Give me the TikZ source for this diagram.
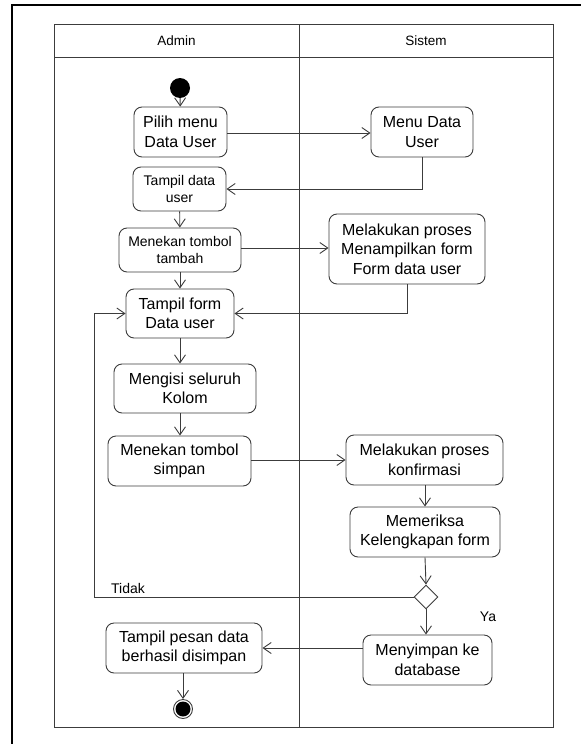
\documentclass[tikz,border=0pt]{standalone}
\usepackage{fontspec}
\setmainfont{Liberation Sans}
\usetikzlibrary{arrows.meta,shapes.geometric}
\definecolor{linegray}{HTML}{3C3C3C}
\begin{document}
\begin{tikzpicture}[x=1pt,y=-1pt,
  flow/.style={draw=linegray,line width=0.9pt,-{Straight Barb[length=8pt,width=11pt,line width=0.9pt]}},
  act/.style={draw=linegray,line width=0.9pt,rounded corners=8pt,align=center,inner sep=0pt,
    font=\fontsize{16}{19.5}\selectfont},
  actsmall/.style={act,font=\fontsize{14}{17}\selectfont},
  lane/.style={draw=linegray,line width=1pt},
  lbl/.style={font=\fontsize{14}{16}\selectfont,inner sep=0pt}]
\useasboundingbox (0,0) rectangle (581,744);
% page frame
\draw[line width=2pt,black] (12,744) -- (12,5) -- (581,5);
% swimlanes
\draw[lane] (54,24) rectangle (553,727);
\draw[lane] (54,57) -- (553,57);
\draw[lane] (299,24) -- (299,727);
\node[lbl,font=\fontsize{13.5}{16}\selectfont] (hadmin) at (176.5,41) {Admin};
\node[lbl,font=\fontsize{13.5}{16}\selectfont] (hsistem) at (426,41) {Sistem};
% activities
\node[circle,fill=black,minimum size=20pt,inner sep=0pt] (start) at (180,88) {};
\node[act,minimum width=93pt,minimum height=50pt] (pilih) at (180.5,132) {Pilih menu\\Data User};
\node[act,minimum width=102pt,minimum height=50pt] (menu) at (422,132) {Menu Data\\User};
\node[actsmall,minimum width=93pt,minimum height=44pt] (tdata) at (179.5,189) {Tampil data\\user};
\node[actsmall,minimum width=122pt,minimum height=44pt] (tambah) at (180,250) {Menekan tombol\\tambah};
\node[act,minimum width=156pt,minimum height=70pt] (proses) at (407,249) {Melakukan proses\\Menampilkan form\\Form data user};
\node[act,minimum width=108pt,minimum height=49pt] (tform) at (180,313.5) {Tampil form\\Data user};
\node[act,minimum width=142pt,minimum height=49pt] (isi) at (185,388.5) {Mengisi seluruh\\Kolom};
\node[act,minimum width=143pt,minimum height=50pt] (simpan) at (179.5,461) {Menekan tombol\\simpan};
\node[act,minimum width=157pt,minimum height=50pt] (konf) at (424.5,460) {Melakukan proses\\konfirmasi};
\node[act,minimum width=150pt,minimum height=50pt] (periksa) at (425,532) {Memeriksa\\Kelengkapan form};
\node[diamond,draw=linegray,line width=0.9pt,minimum width=24pt,minimum height=24pt,inner sep=0pt] (cek) at (426,597) {};
\node[act,minimum width=129pt,minimum height=50pt] (db) at (427.5,660) {Menyimpan ke\\database};
\node[act,minimum width=156pt,minimum height=50pt] (pesan) at (184,648) {Tampil pesan data\\berhasil disimpan};
\node[circle,draw=linegray,line width=0.9pt,minimum size=19pt,inner sep=0pt] (end) at (183,709) {};
\fill[black] (end.center) circle (7.5pt);
\coordinate (loop) at (94,597);
% flows
\draw[flow] (start) -- (pilih);
\draw[flow] (pilih.east |- 0,133) -- (menu.west |- 0,133);
\draw[flow] (menu.south) |- (tdata.east);
\draw[flow] (tdata) -- (tambah);
\draw[flow] (tambah.east |- 0,248) -- (proses.west |- 0,248);
\draw[flow] (tambah) -- (tform);
\draw[flow] (proses.south) |- (tform.east);
\draw[flow] (tform.south) -- (tform.south |- isi.north);
\draw[flow] (isi.south -| tform.south) -- (tform.south |- simpan.north);
\draw[flow] (simpan.east |- 0,460) -- (konf.west);
\draw[flow] (konf.south -| periksa.north) -- (periksa.north);
\draw[flow] (periksa.south) -- (cek.north);
\draw[flow] (cek.west) -- (loop) |- (tform.west);
\draw[flow] (cek.south) -- (db.north -| cek.south);
\draw[flow] (db.west |- 0,648) -- (pesan.east);
\draw[flow] (pesan.south -| end.north) -- (end.north);
\node[lbl,anchor=west] (tidak) at (111,588) {Tidak};
\node[lbl] (ya) at (488,617) {Ya};
\end{tikzpicture}
\end{document}
